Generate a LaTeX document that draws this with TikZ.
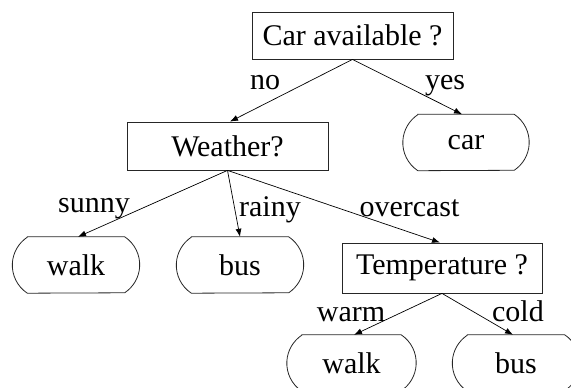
\documentclass[tikz,border=0pt]{standalone}
\usepackage{fontspec}
\setmainfont{Liberation Serif}
\usetikzlibrary{arrows.meta}
\tikzset{
  boxline/.style={draw=black!85, line width=0.8pt},
  qbox/.style={boxline, rectangle, inner sep=0pt, minimum height=48pt, font=\fontsize{30}{34}\selectfont},
  leaf/.style={rectangle, inner sep=0pt, minimum width=127pt, minimum height=56pt, font=\fontsize{30}{34}\selectfont},
  lbl/.style={anchor=base, inner sep=0pt, font=\fontsize{30}{34}\selectfont},
  arr/.style={line width=0.7pt, -{Latex[length=8pt,width=6pt]}}
}
\newcommand{\stadium}[1]{%
  \draw[boxline] ([xshift=15pt]#1.north west) -- ([xshift=-15pt]#1.north east)
    arc[start angle=56.36,end angle=-56.36,radius=33.63pt]
    -- ([xshift=15pt]#1.south west)
    arc[start angle=236.36,end angle=123.64,radius=33.63pt] -- cycle;}
\begin{document}
\begin{tikzpicture}[x=1pt,y=1pt]
\useasboundingbox (0,0) rectangle (571,388);
\clip (0,0) rectangle (571,388);
% question boxes
\node[qbox, minimum width=201pt, minimum height=47pt] (ca) at (352.5,352.5) {Car available ?};
\node[qbox, minimum width=201pt] (wea) at (227.5,242) {Weather?};
\node[qbox, minimum width=200pt, minimum height=50pt] (tem) at (442,120) {Temperature ?};
% leaves
\node[leaf, minimum width=126pt, minimum height=56pt] (car) at (466,245.5) {car};
\node[leaf] (walka) at (76,123) {walk};
\node[leaf] (busa) at (240,123) {bus};
\node[leaf, minimum width=129pt] (walkb) at (351.5,25) {walk};
\node[leaf] (busb) at (516,25) {bus};
\stadium{car}
\stadium{walka}
\stadium{busa}
\stadium{walkb}
\stadium{busb}
% connectors
\draw[arr] (ca.south) -- ([xshift=2.5pt]wea.north);
\draw[arr] (ca.south) -- ([xshift=-4pt]car.north);
\draw[arr] (wea.south) -- ([xshift=2pt]walka.north);
\draw[arr] (wea.south) -- (busa.north);
\draw[arr] (wea.south) -- ([xshift=-2pt]tem.north);
\draw[arr] (tem.south) -- ([xshift=2.5pt]walkb.north);
\draw[arr] (tem.south) -- ([xshift=-3pt]busb.north);
% labels
\node[lbl] (lno) at (265,298) {no};
\node[lbl] (lyes) at (445,298) {yes};
\node[lbl] (lsun) at (94,175) {sunny};
\node[lbl] (lrain) at (270,171) {rainy};
\node[lbl] (lover) at (409.5,171) {overcast};
\node[lbl] (lwarm) at (351,66) {warm};
\node[lbl] (lcold) at (518,66) {cold};
\end{tikzpicture}
\end{document}
